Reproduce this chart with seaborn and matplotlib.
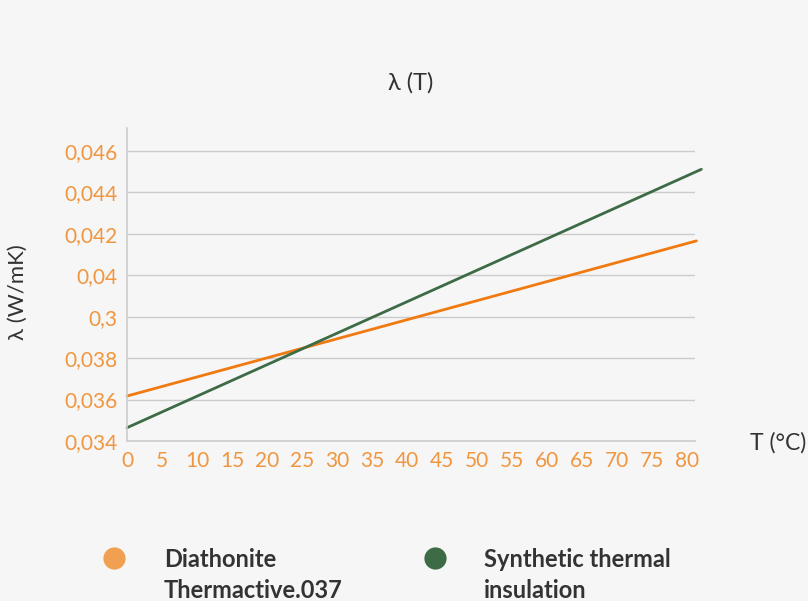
import matplotlib
matplotlib.use("Agg")
import matplotlib.pyplot as plt
from matplotlib.lines import Line2D
import seaborn as sns
import numpy as np
import pandas as pd

# data
temps_diathonite = [0, 81.3]
lambda_diathonite = [0.03586, 0.04228]
temps_synthetic = [0, 82.0]
lambda_synthetic = [0.03455, 0.04524]

series_names = ["Diathonite\nThermactive.037", "Synthetic thermal\ninsulation"]
x_ticks = list(range(0, 85, 5))
y_tick_labels = ["0,034", "0,036", "0,038", "0,3", "0,04", "0,042", "0,044", "0,046"]

df = pd.concat([
    pd.DataFrame({"T": temps_diathonite, "lam": lambda_diathonite, "series": series_names[0]}),
    pd.DataFrame({"T": temps_synthetic, "lam": lambda_synthetic, "series": series_names[1]}),
])

c_bg = "#f6f6f6"
c_orange_line = "#f07a10"
c_orange_dot = "#f0a050"
c_green = "#3d6b45"
c_tick = "#f0963f"
c_grid = "#cccccc"
c_text = "#333333"

sns.set_theme(style="white")
plt.rcParams["font.family"] = ["Lato", "DejaVu Sans"]

fig = plt.figure(figsize=(8.08, 6.01), dpi=100, facecolor=c_bg)
ax = fig.add_axes([127 / 808, 1 - 441 / 601, (695 - 127) / 808, (441 - 128) / 601])
ax.set_facecolor(c_bg)

sns.lineplot(data=df, x="T", y="lam", hue="series",
             palette=[c_orange_line, c_green], linewidth=2, legend=False, ax=ax)
for ln in ax.lines:
    ln.set_clip_on(False)

ax.set_xlim(0, 81.1)
ax.set_ylim(0.034, 0.04695)
ax.set_xticks(x_ticks)
y_pos = np.linspace(0.034, 0.046, len(y_tick_labels))
ax.set_yticks(y_pos)
ax.set_yticklabels(y_tick_labels)
ax.yaxis.grid(True, color=c_grid, linewidth=1)
ax.set_axisbelow(True)

for s in ["top", "right"]:
    ax.spines[s].set_visible(False)
for s in ["left", "bottom"]:
    ax.spines[s].set_color(c_grid)
    ax.spines[s].set_linewidth(1.2)

ax.tick_params(axis="both", color=c_grid, length=4, width=1, labelsize=15, pad=3)
for lbl in ax.get_xticklabels() + ax.get_yticklabels():
    lbl.set_color(c_tick)

ax.set_xlabel("")
ax.set_ylabel("λ (W/mK)", fontsize=16, color=c_text)
ax.yaxis.set_label_coords((28 - 127) / 568, 0.476)
ax.text(0.5, (441 - 83) / 313, "λ (T)", transform=ax.transAxes, fontsize=17,
        color=c_text, ha="center", va="center")
ax.text((778 - 127) / 568, -0.006, "T (°C)", transform=ax.transAxes, fontsize=16.5,
        color=c_text, ha="center", va="center")

# legend: dots plus two-line bold labels
for dot_x, text_x, name, col in [(114.5, 164, series_names[0], c_orange_dot),
                                 (435, 484, series_names[1], c_green)]:
    fig.add_artist(Line2D([dot_x / 808], [1 - 558 / 601], transform=fig.transFigure,
                          linestyle="none", marker="o", markersize=16,
                          markerfacecolor=col, markeredgecolor="none"))
    fig.text(text_x / 808, 1 - 598 / 601, name, fontsize=17, fontweight="bold",
             color=c_text, ha="left", va="baseline", linespacing=1.4)

fig.savefig("out.png", dpi=100, facecolor=c_bg)
